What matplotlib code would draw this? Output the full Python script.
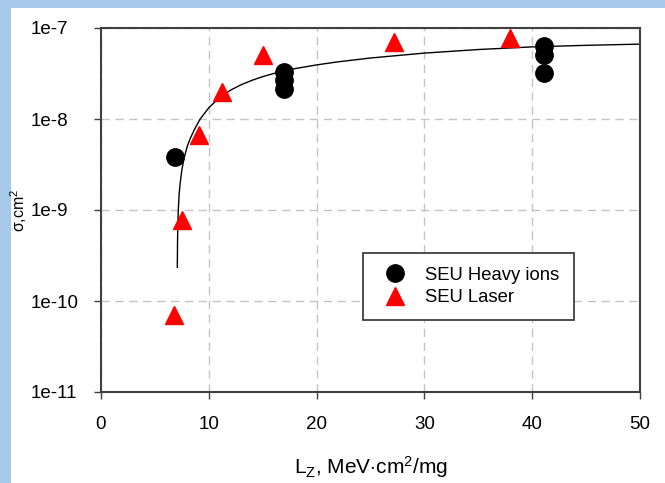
import numpy as np
import matplotlib.pyplot as plt
from matplotlib.patches import Rectangle
from matplotlib.lines import Line2D

plt.rcParams['font.family'] = ['Liberation Sans', 'DejaVu Sans']
plt.rcParams['mathtext.fontset'] = 'custom'
plt.rcParams['mathtext.rm'] = 'Liberation Sans'
plt.rcParams['mathtext.it'] = 'Liberation Sans'

# SEU heavy ions (LET, cross section)
ion_let = [6.9, 17.0, 17.0, 17.0, 41.1, 41.1, 41.1]
ion_sig = [3.85e-9, 3.3e-8, 2.68e-8, 2.15e-8, 6.4e-8, 5.0e-8, 3.2e-8]

# SEU laser (equivalent LET, cross section)
las_let = [6.8, 7.55, 9.05, 11.2, 15.05, 27.2, 37.9]
las_sig = [7.0e-11, 7.8e-10, 6.7e-9, 2.0e-8, 5.05e-8, 7.1e-8, 7.7e-8]

# fitted curve
fit_let = [7.08, 7.1, 7.13, 7.17, 7.25, 7.35, 7.5, 7.7, 8.0, 8.3, 8.7, 9.2,
           10.0, 11.0, 12.0, 13.0, 14.0, 15.0, 16.0, 17.0, 18.0, 20.0, 22.0,
           25.0, 30.0, 35.0, 40.0, 45.0, 50.0]
fit_sig = [2.35e-10, 4.5e-10, 7.0e-10, 1.0e-9, 1.5e-9, 2.0e-9, 2.75e-9, 3.7e-9,
           5.0e-9, 6.2e-9, 7.8e-9, 1.0e-8, 1.33e-8, 1.72e-8, 2.07e-8, 2.38e-8,
           2.66e-8, 2.92e-8, 3.16e-8, 3.38e-8, 3.58e-8, 3.93e-8, 4.25e-8,
           4.68e-8, 5.3e-8, 5.8e-8, 6.2e-8, 6.45e-8, 6.65e-8]

yticks = [1e-11, 1e-10, 1e-9, 1e-8, 1e-7]
yticklabels = ['1e-11', '1e-10', '1e-9', '1e-8', '1e-7']
xticks = [0, 10, 20, 30, 40, 50]

fig = plt.figure(figsize=(6.65, 4.83), dpi=100)
fig.patch.set_facecolor('#a6c8e9')
fig.patches.append(Rectangle((11/665, 0), 1, 1 - 8/483, transform=fig.transFigure,
                             facecolor='white', edgecolor='none', zorder=-10))

ax = fig.add_axes([101/665, 1 - 392/483, 539/665, 364/483])
ax.set_yscale('log')
ax.set_xlim(0, 50)
ax.set_ylim(1e-11, 1e-7)

ax.plot(fit_let, fit_sig, color='black', lw=1.0, zorder=2)
ax.plot(ion_let, ion_sig, 'o', color='black', ms=12.5, zorder=3)
ax.plot(las_let, las_sig, '^', color='#ff0000', ms=13, mec='#ff0000', zorder=3)

ax.set_xticks(xticks)
ax.set_yticks(yticks)
ax.set_yticklabels(yticklabels)
ax.yaxis.set_minor_locator(plt.NullLocator())
ax.tick_params(axis='x', direction='out', length=5, width=1, pad=12, labelsize=13.5,
               color='#404040')
ax.tick_params(axis='y', direction='out', length=5, width=1, pad=46, labelsize=13.5,
               color='#404040')
for lab in ax.get_yticklabels():
    lab.set_horizontalalignment('left')
ax.grid(True, color='#c4c4c4', ls=(0, (6, 4)), lw=1.0)
for s in ax.spines.values():
    s.set_color('#404040')
    s.set_linewidth(1.5)

ax.set_xlabel(r'L$_{\mathrm{Z}}$, MeV$\cdot$cm$^{2}$/mg', fontsize=15)
ax.xaxis.set_label_coords(0.5, -0.17)
ax.set_ylabel(r'$\mathrm{\sigma}$,cm$^{2}$', fontsize=11.5)
ax.yaxis.set_label_coords(-0.133, 0.5)

handles = [Line2D([], [], ls='none', marker='o', color='black', ms=12.5),
           Line2D([], [], ls='none', marker='^', color='#ff0000', ms=13)]
leg = ax.legend(handles, ['SEU Heavy ions', 'SEU Laser'], loc='upper left',
                bbox_to_anchor=(0.4855, 0.382), borderaxespad=0, fontsize=13.3,
                fancybox=False, framealpha=1, edgecolor='#303030',
                borderpad=0.75, handlelength=1.95, handletextpad=0.7,
                labelspacing=0.3)
leg.get_frame().set_linewidth(1.2)

plt.savefig('out.png', dpi=100, facecolor=fig.get_facecolor())
